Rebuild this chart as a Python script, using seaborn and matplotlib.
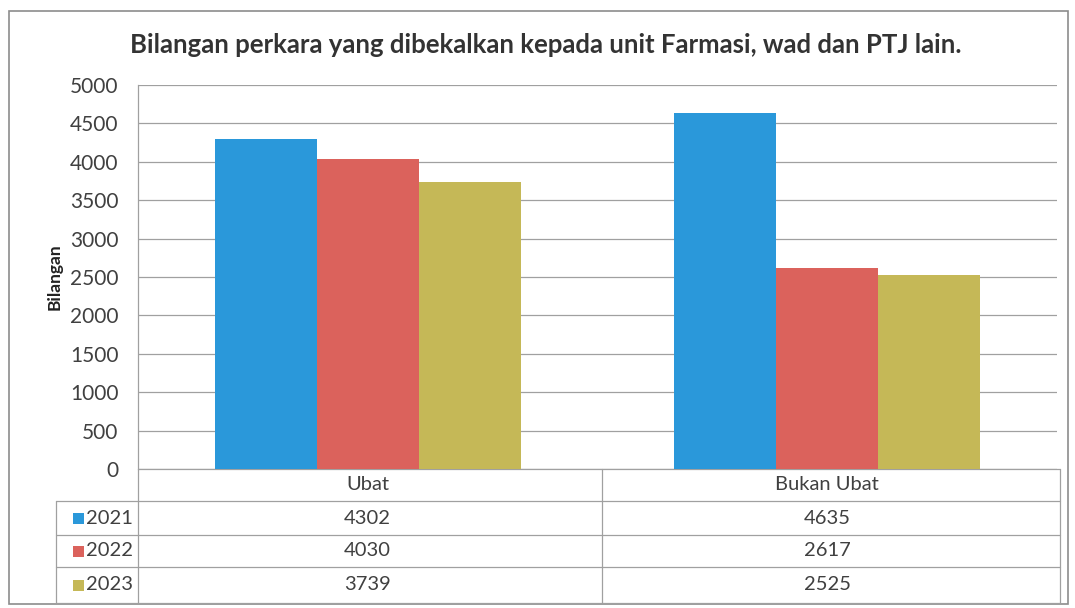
import pandas as pd
import numpy as np
import matplotlib
matplotlib.use('Agg')
import matplotlib.pyplot as plt
import matplotlib.transforms as mtransforms
from matplotlib.patches import Rectangle
import seaborn as sns

categories = ['Ubat', 'Bukan Ubat']
years = ['2021', '2022', '2023']
values_2021 = [4302, 4635]
values_2022 = [4030, 2617]
values_2023 = [3739, 2525]
yticks = [0, 500, 1000, 1500, 2000, 2500, 3000, 3500, 4000, 4500, 5000]

colors = ['#2A98DA', '#DB625C', '#C5B857']
text_col = '#404040'
line_col = '#A0A0A0'

df = pd.DataFrame({
    'kategori': categories * 3,
    'tahun': [y for y in years for _ in categories],
    'bilangan': values_2021 + values_2022 + values_2023,
})

sns.set_style('white')
plt.rcParams['font.family'] = ['Lato', 'DejaVu Sans']

W, H = 1075, 608
fig = plt.figure(figsize=(W / 100, H / 100), dpi=100)

# overlay in pixel coords for frame, title and data table
ov = fig.add_axes([0, 0, 1, 1])
ov.set_xlim(0, W)
ov.set_ylim(H, 0)
ov.axis('off')

left, right, top, bottom = 138, 1057, 85, 469
ax = fig.add_axes([left / W, 1 - bottom / H, (right - left) / W, (bottom - top) / H])
ax.patch.set_alpha(0)

sns.barplot(
    data=df, x='kategori', y='bilangan', hue='tahun',
    order=categories, hue_order=years, palette=colors,
    width=0.665, saturation=1, ax=ax, legend=False, linewidth=0
)

ax.set_xlim(-0.5, 1.5)
ax.set_ylim(0, 5000)
ax.set_yticks(yticks)
ax.set_yticklabels([str(t) for t in yticks], fontsize=15, color=text_col)
ax.tick_params(axis='y', length=0, pad=14)
ax.set_xticks([])
ax.set_xlabel('')
ax.set_ylabel('Bilangan', fontsize=12.5, fontweight='bold', color='#222222')
ax.yaxis.set_label_coords(-0.082, 0.5)
ax.grid(axis='y', color=line_col, linewidth=0.9)
ax.set_axisbelow(True)
for s in ['top', 'right', 'bottom']:
    ax.spines[s].set_visible(False)
ax.spines['left'].set_color(line_col)
ax.spines['left'].set_linewidth(0.9)

# outer chart border
ov.add_patch(Rectangle((9, 11), 1059, 593, fill=False, edgecolor='#8C8C8C', linewidth=1.2))

ov.text(546, 45, 'Bilangan perkara yang dibekalkan kepada unit Farmasi, wad dan PTJ lain.',
        ha='center', va='center', fontsize=18.5, fontweight='bold', color='#333333')

# data table
row_lines = [469, 501, 535, 567, 603]
tab_left, tab_right, div_x = 56, 1060, 602
for i, y in enumerate(row_lines):
    x0 = left if i == 0 else tab_left
    ov.plot([x0, tab_right], [y, y], color=line_col, linewidth=0.9)
ov.plot([tab_left, tab_left], [501, 603], color=line_col, linewidth=0.9)
ov.plot([left, left], [469, 603], color=line_col, linewidth=0.9)
ov.plot([div_x, div_x], [469, 603], color=line_col, linewidth=0.9)
ov.plot([tab_right, tab_right], [469, 603], color=line_col, linewidth=0.9)

blend = mtransforms.blended_transform_factory(ax.transData, ov.transData)
for i, cat in enumerate(categories):
    ov.text(i, 485, cat, transform=blend, ha='center', va='center', fontsize=14.5, color=text_col)

series = [values_2021, values_2022, values_2023]
row_mid = [518, 551, 585]
for yr, vals, c, ym in zip(years, series, colors, row_mid):
    ov.add_patch(Rectangle((73, ym - 5), 11, 11, facecolor=c, edgecolor='none'))
    ov.text(86, ym, yr, ha='left', va='center', fontsize=14.5, color=text_col)
    for i, v in enumerate(vals):
        ov.text(i, ym, str(v), transform=blend, ha='center', va='center', fontsize=14.5, color=text_col)

fig.savefig('out.png', dpi=100, facecolor='white')
